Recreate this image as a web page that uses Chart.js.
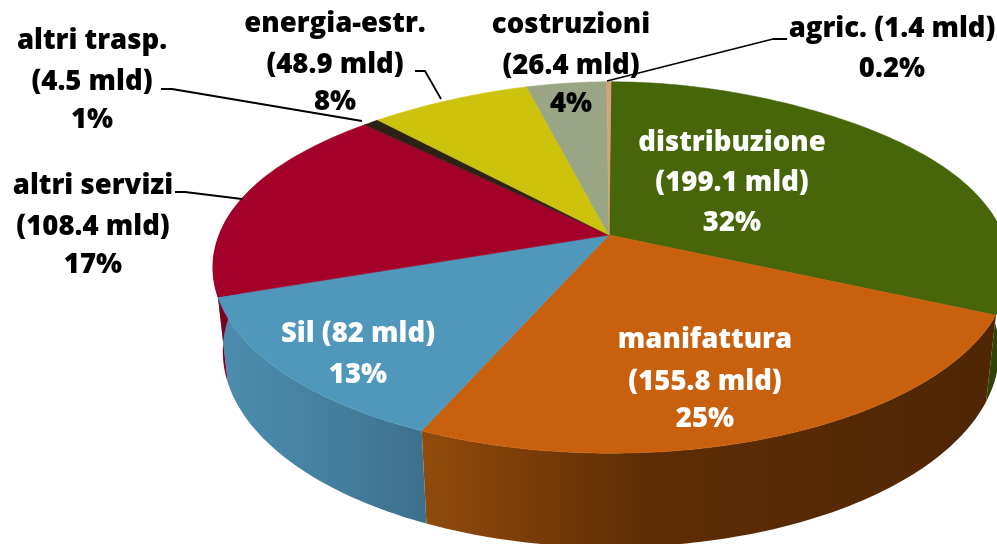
<!DOCTYPE html>
<html><head><meta charset="utf-8">
<style>html,body{margin:0;padding:0;background:#fff;overflow:hidden}canvas{display:block}</style>
<script src="https://cdn.jsdelivr.net/npm/chart.js@4"></script>
</head><body><canvas id="c" width="997" height="544"></canvas>
<script>
const categories = ['distribuzione','manifattura','Sil','altri servizi','altri trasp.','energia-estr.','costruzioni','agric.'];
const valuesMld = [199.1,155.8,82,108.4,4.5,48.9,26.4,1.4];
const percentLabels = ['32%','25%','13%','17%','1%','8%','4%','0.2%'];

const topColors = ['#476509','#c9600e','#4f97bb','#a3002a','#2c2212','#cdc30c','#9aa585','#d9a27e'];
const sideStops = [['#2f4406','#2f4406'],[[420,'#924b0c'],[520,'#7c3e08'],[640,'#5f2d05'],[997,'#4e2604']],[[225,'#4d8cae'],[330,'#457f9f'],[425,'#3d708d']],['#7c0020','#7c0020'],['#222','#222'],['#99920a','#99920a'],['#77806a','#77806a'],['#a87a5c','#a87a5c']];

// label layout: [centre x, baselines per line, colour]
const labelLayout = [
  {x:732,y:[151,191,231],c:'#fff'},
  {x:705,y:[348,390,427],c:'#fff'},
  {x:358,y:[342,383],c:'#fff',join:true},
  {x:93,y:[194,235,273],c:'#000'},
  {x:92,y:[49,90,128],c:'#000'},
  {x:335,y:[32,73,110],c:'#000'},
  {x:571,y:[33,74,112],c:'#000'},
  {x:892,y:[37,77],c:'#000',join:true}
];
const leaders = [
  [[161,89],[172,89],[362,121]],
  [[415,71],[425,71],[441,99]],
  [[175,192],[185,192],[242,199]],
  [[787,39],[773,39],[607,81]]
];

// perspective projection of the pie disc
const P = {cx:609,cy:235,rimCx:611,a:392,b:180,q:0.175,shrink:0.975,h:82,taper:0.1};
function xScale(y){return y<0?1-P.taper*Math.pow(-y,3):1;}
function rim(t){const x=Math.cos(t),y=Math.sin(t),w=1-P.q*y;return [P.rimCx+P.a*x/w*xScale(y),P.cy+P.b*y/w];}
function low(t){const x=Math.cos(t),y=Math.sin(t),w=1-P.q*y;return [P.rimCx+P.a*x/w*P.shrink*xScale(y),P.cy+(P.b*y*P.shrink+P.h)/w];}

Chart.ArcElement.prototype.draw = function(ctx){
  const s=this.startAngle,e=this.endAngle,n=Math.max(2,Math.ceil((e-s)*60));
  ctx.save();
  ctx.beginPath();ctx.moveTo(P.cx,P.cy);
  for(let i=0;i<=n;i++){const p=rim(s+(e-s)*i/n);ctx.lineTo(p[0],p[1]);}
  ctx.closePath();
  ctx.fillStyle=this.options.backgroundColor;ctx.fill();
  ctx.strokeStyle=this.options.backgroundColor;ctx.lineWidth=0.6;ctx.stroke();
  ctx.restore();
};

const sidePlugin={id:'side',beforeDatasetsDraw(chart){
  const ctx=chart.ctx,arcs=chart.getDatasetMeta(0).data;
  arcs.forEach((arc,i)=>{
    const s=arc.startAngle,e=arc.endAngle,n=Math.max(2,Math.ceil((e-s)*60)),ts=[];
    for(let k=0;k<=n;k++){const t=s+(e-s)*k/n;if(Math.sin(t)>-0.15)ts.push(t);}
    if(ts.length<2)return;
    ctx.beginPath();
    ts.forEach((t,k)=>{const p=rim(t);k?ctx.lineTo(p[0],p[1]):ctx.moveTo(p[0],p[1]);});
    ts.slice().reverse().forEach(t=>{const p=low(t);ctx.lineTo(p[0],p[1]);});
    ctx.closePath();
    const st=sideStops[i];let fill=st[0];
    if(Array.isArray(st[0])){
      const x0=st[0][0],x1=st[st.length-1][0],g=ctx.createLinearGradient(x0,0,x1,0);
      st.forEach(c=>g.addColorStop((c[0]-x0)/(x1-x0),c[1]));fill=g;
    }
    ctx.fillStyle=fill;
    ctx.fill();
  });
}};

const labelPlugin={id:'labels3d',afterDatasetsDraw(chart){
  const ctx=chart.ctx;
  ctx.save();
  ctx.strokeStyle='#000';ctx.lineWidth=1.8;ctx.lineJoin='round';
  leaders.forEach(l=>{ctx.beginPath();l.forEach((p,k)=>k?ctx.lineTo(p[0],p[1]):ctx.moveTo(p[0],p[1]));ctx.stroke();});
  ctx.font='800 27.5px "Open Sans", sans-serif';
  ctx.textAlign='center';ctx.textBaseline='alphabetic';
  categories.forEach((name,i)=>{
    const L=labelLayout[i],amt='('+valuesMld[i]+' mld)';
    const lines=L.join?[name+' '+amt,percentLabels[i]]:[name,amt,percentLabels[i]];
    ctx.fillStyle=L.c;
    lines.forEach((t,k)=>ctx.fillText(t,L.x,L.y[k]));
  });
  ctx.restore();
}};

new Chart(document.getElementById('c'),{
  type:'pie',
  data:{labels:categories,datasets:[{data:valuesMld,backgroundColor:topColors,borderWidth:0}]},
  options:{responsive:false,animation:false,
    plugins:{legend:{display:false},tooltip:{enabled:false}}},
  plugins:[sidePlugin,labelPlugin]
});
</script></body></html>
